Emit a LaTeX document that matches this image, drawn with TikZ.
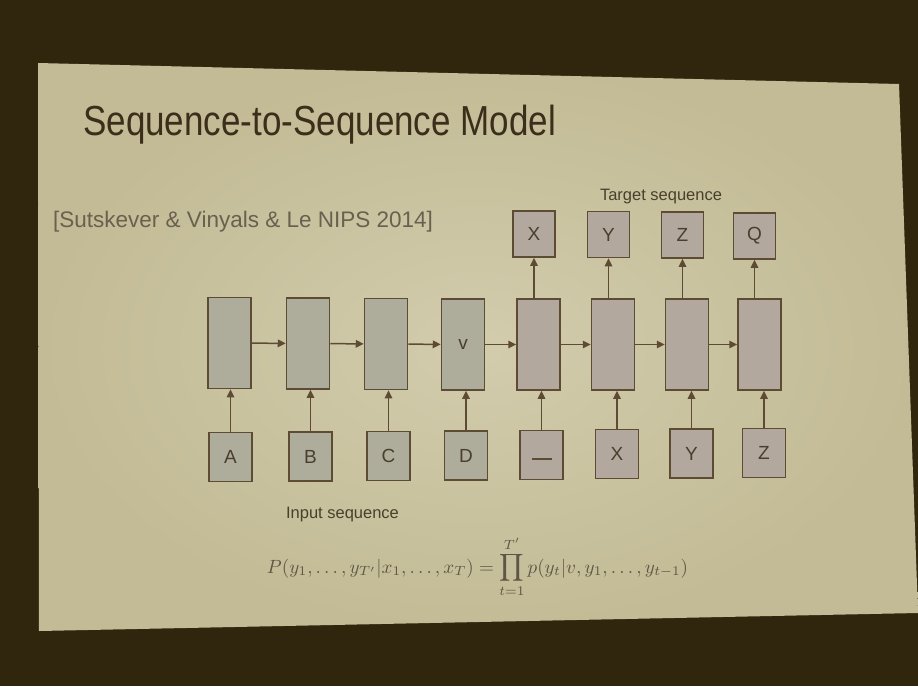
\documentclass[tikz,border=0pt]{standalone}
\usepackage{amsmath}
\usepackage{fontspec}
\setmainfont{Liberation Sans}
\usetikzlibrary{arrows.meta}
\definecolor{bgdark}{HTML}{2F260D}
\definecolor{slidelight}{HTML}{D3CCAD}
\definecolor{slidedark}{HTML}{C2BB95}
\definecolor{edgec}{HTML}{5E4B33}
\definecolor{encfill}{HTML}{AEAD9B}
\definecolor{decfill}{HTML}{B2A89D}
\definecolor{titlec}{HTML}{3B2F1B}
\definecolor{textc}{HTML}{4A3F2C}
\definecolor{citec}{HTML}{6A6050}
\definecolor{mathc}{HTML}{5F5646}
\tikzset{
  hbox/.style={draw=edgec, line width=1.5pt, minimum width=43pt, minimum height=91pt, inner sep=0pt, text=textc, font=\fontsize{19}{19}\selectfont},
  enc/.style={hbox, fill=encfill},
  dec/.style={hbox, fill=decfill},
  tok/.style={draw=edgec, line width=1.5pt, minimum width=43pt, minimum height=49pt, inner sep=0pt, text=textc, font=\fontsize{19}{19}\selectfont},
  outtok/.style={tok, fill=decfill, minimum width=42pt, minimum height=46pt},
  conn/.style={draw=edgec, line width=1.5pt, -{Triangle[length=8pt,width=7.5pt]}},
}
\begin{document}
\begin{tikzpicture}[x=1pt,y=-1pt]
\useasboundingbox (0,0) rectangle (918,686);
\fill[bgdark] (0,0) rectangle (918,686);
\shade[inner color=slidelight, outer color=slidedark] (38,63) -- (899,84) -- (918,613) -- (39,631) -- cycle;

\node[anchor=base west, text=titlec, font=\fontsize{35}{35}\selectfont, inner sep=0pt] (title) at (83,135) {\scalebox{1}[1.2]{Sequence-to-Sequence Model}};
\node[anchor=base west, text=citec, font=\fontsize{22.5}{22.5}\selectfont, inner sep=0pt] (cite) at (53,227) {[Sutskever \& Vinyals \& Le NIPS 2014]};
\node[anchor=base, text=textc, font=\fontsize{16.5}{16.5}\selectfont, inner sep=0pt] (target) at (661,200) {Target sequence};
\node[anchor=base, text=textc, font=\fontsize{16.5}{16.5}\selectfont, inner sep=0pt] (input) at (342.5,518) {Input sequence};

% hidden states
\node[enc] (h1) at (229.5,343) {};
\node[enc] (h2) at (308,343.5) {};
\node[enc] (h3) at (386,344) {};
\node[enc] (h4) at (463,344.5) {v};
\node[dec] (h5) at (538.5,344.5) {};
\node[dec] (h6) at (613,344.5) {};
\node[dec] (h7) at (687,344.5) {};
\node[dec] (h8) at (759.5,344.5) {};

% input tokens
\node[tok, fill=encfill] (b1) at (230.5,457) {A};
\node[tok, fill=encfill] (b2) at (310.5,456.5) {B};
\node[tok, fill=encfill] (b3) at (388.5,456) {C};
\node[tok, fill=encfill] (b4) at (466,455.5) {D};
\node[tok, fill=decfill] (b5) at (541.5,455) {\raisebox{-10pt}{\textcolor{edgec}{\rule{20pt}{1.6pt}}}};
\node[tok, fill=decfill] (b6) at (617,454) {X};
\node[tok, fill=decfill] (b7) at (691.5,453.5) {Y};
\node[tok, fill=decfill] (b8) at (764,453) {Z};

% output tokens
\node[outtok] (t1) at (534,234) {X};
\node[outtok] (t2) at (608.5,234.5) {Y};
\node[outtok] (t3) at (682.5,235) {Z};
\node[outtok] (t4) at (754.5,236) {Q};

% recurrent arrows
\foreach \a/\b in {h1/h2,h2/h3,h3/h4,h4/h5,h5/h6,h6/h7,h7/h8}
  \draw[conn] (\a) -- (\b);
% input arrows
\foreach \i in {1,...,8}
  \draw[conn] (b\i) -- (b\i |- h\i.south);
% output arrows
\foreach \t/\h in {t1/h5,t2/h6,t3/h7,t4/h8}
  \draw[conn] (\t |- \h.north) -- (\t);

\node[anchor=base, text=mathc, inner sep=0pt] (formula) at (477.5,573)
  {\resizebox{421pt}{!}{$\displaystyle P(y_1,\ldots,y_{T'}|x_1,\ldots,x_T)=\prod_{t=1}^{T'}p(y_t|v,y_1,\ldots,y_{t-1})$}};
\end{tikzpicture}
\end{document}
